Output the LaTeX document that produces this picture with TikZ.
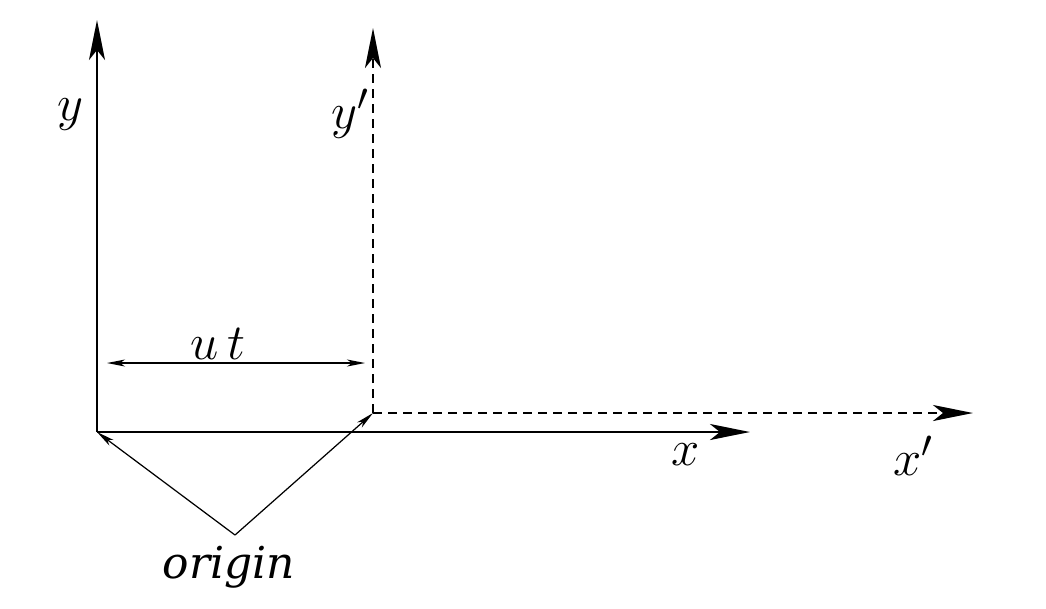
\documentclass[tikz,border=0pt]{standalone}
\usepackage{fontspec}
\newfontfamily\labelfont{DejaVu Serif}
\usetikzlibrary{arrows.meta}
\begin{document}
\begin{tikzpicture}[x=0.01cm, y=-0.01cm, font=\fontsize{15}{18}\selectfont]

	\tikzset{
		axis/.style={line width=0.75pt, -{Stealth[length=4mm, width=1.6mm, inset=1mm]}},
		moved/.style={axis, dash pattern=on 0.09cm off 0.06cm},
		thin arrow/.style={line width=0.35pt, -{Stealth[length=1.8mm, width=0.7mm, inset=0.5mm]}},
		lbl/.style={inner sep=0pt}
	}

	\useasboundingbox (0,0) rectangle (1046,608);

	% ---------------------------
	% Frame at rest (x, y)
	% ---------------------------
	\coordinate (O) at (97,432);
	\coordinate (ytip) at (97,20);
	\coordinate (xtip) at (750,432);
	\draw[axis] (O) -- (ytip);
	\draw[axis] (O) -- (xtip);
	\node[lbl] (ylab) at (70,115) {$y$};
	\node[lbl] (xlab) at (686,455) {$x$};

	% ---------------------------
	% Moving frame (x', y')
	% ---------------------------
	\coordinate (Op) at (373,413);
	\coordinate (yptip) at (373,28);
	\coordinate (xptip) at (973,413);
	\draw[moved] (Op) -- (yptip);
	\draw[moved] (Op) -- (xptip);
	\node[lbl] (yplab) at (351,114) {$y'$};
	\node[lbl] (xplab) at (914,456) {$x'$};

	% ---------------------------
	% Displacement u t
	% ---------------------------
	\coordinate (utl) at (107,363);
	\coordinate (utr) at (365,363);
	\draw[thin arrow, {Stealth[length=1.8mm, width=0.7mm, inset=0.5mm]}-{Stealth[length=1.8mm, width=0.7mm, inset=0.5mm]}] (utl) -- (utr);
	\node[lbl] (ut) at (218,344) {$u\,t$};

	% ---------------------------
	% Origin pointers
	% ---------------------------
	\node[lbl, font=\labelfont\itshape\fontsize{12.5}{15}\selectfont] (origin) at (229,567) {origin};
	\coordinate (apex) at (235,535);
	\draw[thin arrow] (apex) -- (O);
	\draw[thin arrow] (apex) -- (Op);

\end{tikzpicture}
\end{document}
